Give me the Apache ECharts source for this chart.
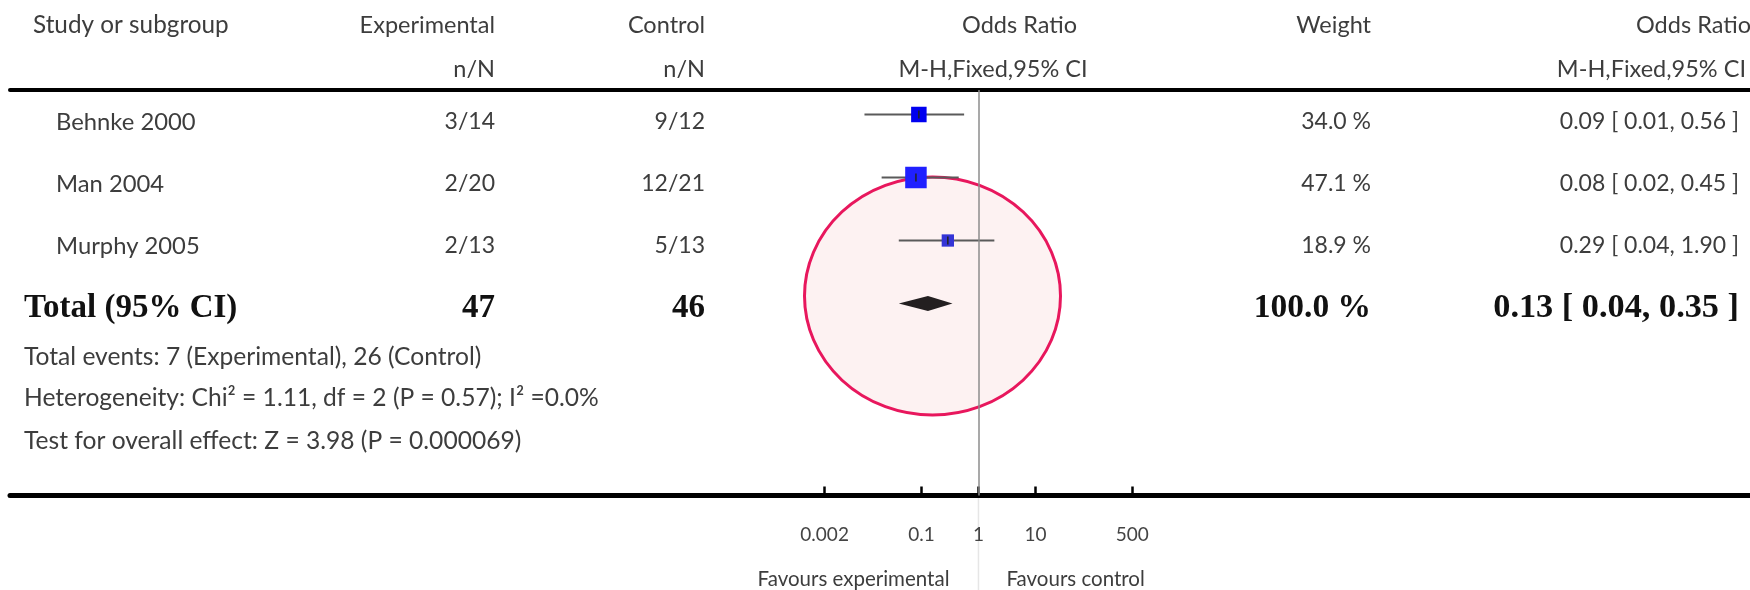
<!DOCTYPE html>
<html lang="en">
<head>
<meta charset="UTF-8">
<title>Forest plot</title>
<script src="https://cdnjs.cloudflare.com/ajax/libs/echarts/6.0.0/echarts.min.js"></script>
<style>
    html, body { margin: 0; padding: 0; background: #fff; }
    #main { width: 1750px; height: 590px; }
</style>
</head>
<body>
<div id="main"></div>
<script>
    // data
    const studies = ['Behnke 2000', 'Man 2004', 'Murphy 2005'];
    const expEvents = ['3/14', '2/20', '2/13'];
    const ctrlEvents = ['9/12', '12/21', '5/13'];
    const weights = [34.0, 47.1, 18.9];
    const orEst = [0.09, 0.08, 0.29];
    const orLow = [0.01, 0.02, 0.04];
    const orHigh = [0.56, 0.45, 1.90];

    const totalLabel = 'Total (95% CI)';
    const totalExp = 47;
    const totalCtrl = 46;
    const totalWeight = 100.0;
    const totalOr = [0.13, 0.04, 0.35]; // est, low, high

    const footNotes = [
        'Total events: 7 (Experimental), 26 (Control)',
        'Heterogeneity: Chi² = 1.11, df = 2 (P = 0.57); I² =0.0%',
        'Test for overall effect: Z = 3.98 (P = 0.000069)'
    ];
    const tickValues = [0.002, 0.1, 1, 10, 500];

    // styles
    const FONT = 'Lato';
    const SERIF = '"Liberation Serif", "DejaVu Serif", serif';
    const TXT = '#3d3d3d';
    const boxPx = [15.5, 21.5, 12.3];
    const boxColors = ['#0000f0', '#2020ff', '#3434d6'];

    const rowText = (i) => 122 + 62 * i;
    const fmtOr = (e, l, h) => `${e.toFixed(2)} [ ${l.toFixed(2)}, ${h.toFixed(2)} ]`;

    const chart = echarts.init(document.getElementById('main'));

    const option = {
        animation: false,
        grid: { left: 10, right: 0, top: 90, bottom: 94.5 },
        xAxis: [{
            type: 'log',
            position: 'bottom',
            min: Math.pow(10, -16.99),
            max: Math.pow(10, 13.535),
            axisLine: { onZero: false, lineStyle: { color: '#000', width: 5 } },
            axisTick: { customValues: tickValues, inside: true, length: 9, lineStyle: { color: '#000', width: 2.5 } },
            axisLabel: {
                customValues: tickValues, margin: 30, color: '#444', fontFamily: FONT, fontSize: 19,
                formatter: (v) => String(+(+v).toPrecision(3))
            },
            splitLine: { show: false },
            minorTick: { show: false }
        }, {
            type: 'log',
            position: 'top',
            min: Math.pow(10, -16.99),
            max: Math.pow(10, 13.535),
            axisLine: { onZero: false, lineStyle: { color: '#000', width: 4 } },
            axisTick: { show: false },
            axisLabel: { show: false },
            splitLine: { show: false }
        }],
        yAxis: {
            type: 'value', inverse: true, show: false,
            min: (90 - 114.5) / 63, max: (495.5 - 114.5) / 63
        },
        series: [
            {
                // confidence intervals
                type: 'custom',
                z: 3,
                encode: { x: [0, 1], y: 2 },
                data: studies.map((s, i) => [orLow[i], orHigh[i], i]),
                renderItem: (params, api) => {
                    const a = api.coord([api.value(0), api.value(2)]);
                    const b = api.coord([api.value(1), api.value(2)]);
                    return {
                        type: 'line',
                        shape: { x1: a[0], y1: a[1], x2: b[0], y2: b[1] },
                        style: { stroke: '#5a5a5a', lineWidth: 2 }
                    };
                },
                markLine: {
                    silent: true, symbol: 'none', label: { show: false },
                    lineStyle: { color: '#8c8c8c', width: 1.5, type: 'solid' },
                    data: [{ xAxis: 1 }]
                }
            },
            {
                type: 'scatter',
                z: 4,
                symbol: 'rect',
                data: studies.map((s, i) => ({
                    value: [orEst[i], i],
                    symbolSize: boxPx[i],
                    itemStyle: { color: boxColors[i], opacity: 1 }
                }))
            },
            {
                // small estimate tick inside each box
                type: 'custom',
                z: 5,
                encode: { x: 0, y: 1 },
                data: studies.map((s, i) => [orEst[i], i]),
                renderItem: (params, api) => {
                    const p = api.coord([api.value(0), api.value(1)]);
                    return {
                        type: 'line',
                        shape: { x1: p[0], y1: p[1] - 4, x2: p[0], y2: p[1] + 4 },
                        style: { stroke: '#222', lineWidth: 1.5 }
                    };
                }
            },
            {
                // pooled diamond
                type: 'custom',
                z: 4,
                encode: { x: [0, 1, 2], y: 3 },
                data: [[totalOr[0], totalOr[1], totalOr[2], 3]],
                renderItem: (params, api) => {
                    const y = api.value(3);
                    const c = api.coord([api.value(0), y]);
                    const l = api.coord([api.value(1), y]);
                    const r = api.coord([api.value(2), y]);
                    return {
                        type: 'polygon',
                        shape: { points: [[l[0], l[1]], [c[0], c[1] - 7.5], [r[0], r[1]], [c[0], c[1] + 7.5]] },
                        style: { fill: '#231f20' }
                    };
                }
            }
        ]
    };
    chart.setOption(option);

    const oneX = chart.convertToPixel({ xAxisIndex: 0 }, 1);

    const txt = (text, x, y, align, size, extra) => Object.assign({
        type: 'text', x: x, y: y, z: 10,
        style: Object.assign({
            text: text, fill: TXT, fontFamily: FONT, fontSize: size,
            align: align, verticalAlign: 'middle'
        }, extra || {})
    });
    const bold = { fill: '#111', fontFamily: SERIF, fontWeight: 'bold' };

    const g = [];
    // highlight ellipse
    g.push({
        type: 'circle', x: 932.5, y: 296, scaleY: 119 / 128, z: -1,
        shape: { cx: 0, cy: 0, r: 128 },
        style: { fill: '#fdf2f2', stroke: '#e8175d', lineWidth: 3, strokeNoScale: true }
    });
    // light continuation of the line of no effect
    g.push({
        type: 'line', z: -1,
        shape: { x1: oneX, y1: 498, x2: oneX, y2: 590 },
        style: { stroke: '#e6e6e6', lineWidth: 1.5 }
    });

    // header
    g.push(txt('Study or subgroup', 33, 25, 'left', 24.3));
    g.push(txt('Experimental', 495, 25, 'right', 23.5));
    g.push(txt('n/N', 495, 69, 'right', 23.5));
    g.push(txt('Control', 705, 25, 'right', 23.5));
    g.push(txt('n/N', 705, 69, 'right', 23.5));
    g.push(txt('Odds Ratio', 1019.5, 25, 'center', 23.5));
    g.push(txt('M-H,Fixed,95% CI', 993, 69, 'center', 23.5));
    g.push(txt('Weight', 1371, 25, 'right', 23.5));
    g.push(txt('Odds Ratio', 1751, 25, 'right', 23.5));
    g.push(txt('M-H,Fixed,95% CI', 1746, 69, 'right', 23.5));

    studies.forEach((s, i) => {
        const y = rowText(i);
        g.push(txt(s, 56, y, 'left', 23.8));
        g.push(txt(expEvents[i], 495, y, 'right', 23));
        g.push(txt(ctrlEvents[i], 705, y, 'right', 23));
        g.push(txt(weights[i].toFixed(1) + ' %', 1371, y, 'right', 23));
        g.push(txt(fmtOr(orEst[i], orLow[i], orHigh[i]), 1739, y, 'right', 23));
    });

    const ty = rowText(3);
    g.push(txt(totalLabel, 24, ty, 'left', 33, bold));
    g.push(txt(String(totalExp), 495, ty, 'right', 33, bold));
    g.push(txt(String(totalCtrl), 705, ty, 'right', 33, bold));
    g.push(txt(totalWeight.toFixed(1) + ' %', 1371, ty, 'right', 33.5, bold));
    g.push(txt(fmtOr(totalOr[0], totalOr[1], totalOr[2]), 1739, ty, 'right', 34.3, bold));

    [357, 398, 441].forEach((y, i) => g.push(txt(footNotes[i], 24, y, 'left', 24.6)));

    g.push(txt('Favours experimental', oneX - 29, 579, 'right', 20.5));
    g.push(txt('Favours control', oneX + 28, 579, 'left', 20.5));

    chart.setOption({ graphic: g });
</script>
</body>
</html>
